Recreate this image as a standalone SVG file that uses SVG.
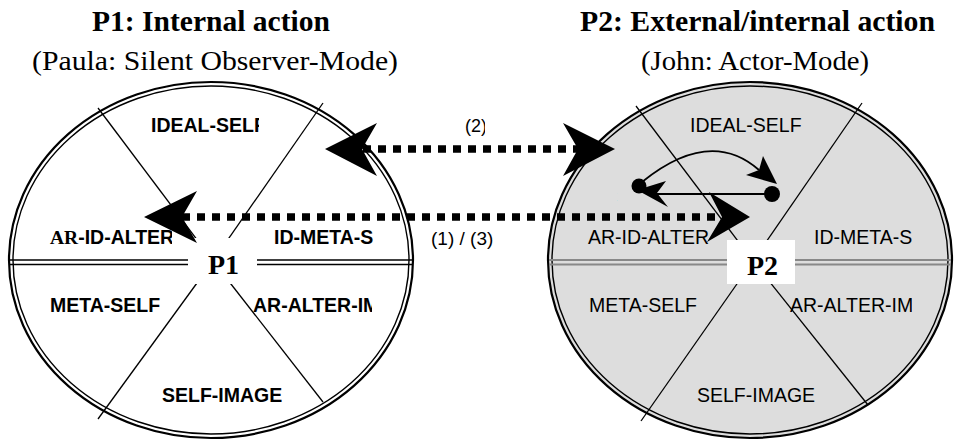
<svg xmlns="http://www.w3.org/2000/svg" width="955" height="442" viewBox="0 0 955 442">
<style>
.title{font-family:"Liberation Serif","Times New Roman",serif;font-weight:bold;font-size:29px;fill:#000}
.sub{font-family:"Liberation Serif","Times New Roman",serif;font-size:28px;fill:#000}
.pl{font-family:"Liberation Serif","Times New Roman",serif;font-weight:bold;font-size:28px;fill:#000}
.lb{font-family:"Liberation Sans",Arial,sans-serif;font-weight:bold;font-size:19.5px;fill:#000}
.lr{font-family:"Liberation Sans",Arial,sans-serif;font-size:19.5px;fill:#000}
.al{font-family:"Liberation Sans",Arial,sans-serif;font-size:19px;fill:#000}
.ser{font-family:"Liberation Serif","Times New Roman",serif;font-weight:bold}
.outer{stroke:#000;stroke-width:2.2}
.inner{fill:none;stroke:#000;stroke-width:1.4}
.rad{stroke:#000;stroke-width:1.3;fill:none}
.hb{stroke:#000;stroke-width:1.6}
.hg{stroke:#888;stroke-width:1.8}
.dash{stroke:#000;stroke-width:7.5;stroke-dasharray:8 7;fill:none}
.head{fill:#000;stroke:none}
</style>
<defs>
<clipPath id="c1"><rect x="140" y="100" width="119" height="50"/></clipPath>
<clipPath id="c2"><rect x="40" y="220" width="132" height="40"/></clipPath>
<clipPath id="c3"><rect x="245" y="290" width="127" height="40"/></clipPath>
<clipPath id="c4"><rect x="580" y="220" width="130" height="40"/></clipPath>
<clipPath id="c5"><rect x="780" y="290" width="132" height="40"/></clipPath>
<clipPath id="c6"><rect x="455" y="110" width="30" height="30"/></clipPath>
<clipPath id="c7"><rect x="617" y="180" width="4" height="25"/></clipPath>
</defs>

<g id="titles">
<text class="title" x="92" y="31" textLength="238" lengthAdjust="spacingAndGlyphs">P1: Internal action</text>
<text class="sub" x="32" y="70" textLength="366" lengthAdjust="spacingAndGlyphs">(Paula: Silent Observer-Mode)</text>
<text class="title" x="580" y="31" textLength="355" lengthAdjust="spacingAndGlyphs">P2: External/internal action</text>
<text class="sub" x="641" y="70" textLength="228" lengthAdjust="spacingAndGlyphs">(John: Actor-Mode)</text>
</g>

<g id="P1">
<ellipse cx="211" cy="260" rx="202" ry="178" class="outer" style="fill:#fff"/>
<ellipse cx="211" cy="260" rx="198" ry="174" class="inner"/>
<line class="rad" x1="213" y1="261" x2="98" y2="108"/>
<line class="rad" x1="213" y1="261" x2="323" y2="103"/>
<line class="rad" x1="213" y1="261" x2="98" y2="419"/>
<line class="rad" x1="213" y1="261" x2="323" y2="402"/>
<line class="hb" x1="10" y1="260" x2="412" y2="260"/>
<line class="hb" x1="10" y1="264.5" x2="412" y2="264.5"/>
<rect x="188" y="238" width="69" height="46" fill="#fff"/>
<text class="pl" x="208" y="274">P1</text>
<text class="lb" x="151" y="132" clip-path="url(#c1)">IDEAL-SELF</text>
<text class="lb" x="50" y="244" clip-path="url(#c2)"><tspan class="ser">AR</tspan>-ID-ALTER</text>
<text class="lb" x="274" y="244">ID-META-S</text>
<text class="lb" x="50" y="312">META-SELF</text>
<text class="lb" x="253" y="312" clip-path="url(#c3)">AR-ALTER-IM</text>
<text class="lb" x="162" y="402">SELF-IMAGE</text>
</g>

<g id="P2">
<ellipse cx="750" cy="260" rx="202" ry="178" class="outer" style="fill:#dddddd"/>
<ellipse cx="750" cy="260" rx="198" ry="174" class="inner"/>
<line class="rad" x1="753" y1="261" x2="636" y2="106"/>
<line class="rad" x1="753" y1="261" x2="862" y2="103"/>
<line class="rad" x1="753" y1="261" x2="641" y2="421"/>
<line class="rad" x1="753" y1="261" x2="868" y2="405"/>
<line class="hg" x1="549" y1="260" x2="951" y2="260"/>
<line class="hg" x1="549" y1="264.5" x2="951" y2="264.5"/>
<rect x="727" y="240" width="68" height="44" fill="#fff"/>
<text class="pl" x="747" y="275">P2</text>
<text class="lr" x="690" y="132">IDEAL-SELF</text>
<text class="lr" x="588" y="244" clip-path="url(#c4)">AR-ID-ALTER</text>
<text class="lr" x="814" y="244">ID-META-S</text>
<text class="lr" x="589" y="312">META-SELF</text>
<text class="lr" x="790" y="312" clip-path="url(#c5)">AR-ALTER-IM</text>
<text class="lr" x="697" y="402">SELF-IMAGE</text>
<text class="lr" x="609" y="201" style="font-size:15px" clip-path="url(#c7)">2</text>
</g>

<g id="connectors">
<line class="dash" x1="363" y1="149" x2="578" y2="149"/>
<path class="head" d="M325,149 L377,123 L362,149 L377,176 Z"/>
<path class="head" d="M615,149 L563,123 L578,149 L563,176 Z"/>
<text class="al" x="465" y="132" style="font-size:18px" clip-path="url(#c6)">(2)</text>

<line class="dash" x1="182" y1="217" x2="722" y2="217"/>
<path class="head" d="M144,217 L197,191 L182,217 L197,243 Z"/>
<path class="head" d="M750,217 L709,192 L722,217 L707,242 Z"/>
<text class="al" x="431" y="245">(1) / (3)</text>

<circle cx="639" cy="186" r="7.5" fill="#000"/>
<circle cx="772" cy="194" r="8" fill="#000"/>
<path class="rad" style="stroke-width:1.8" d="M642,182 Q710,127 759,170"/>
<path class="head" d="M777,184 L763,156 L759,170 L746,175 Z"/>
<line class="rad" style="stroke-width:1.8" x1="772" y1="194" x2="657" y2="194"/>
<path class="head" d="M637,190 L666,181 L657,193 L668,207 Z"/>
</g>
</svg>
